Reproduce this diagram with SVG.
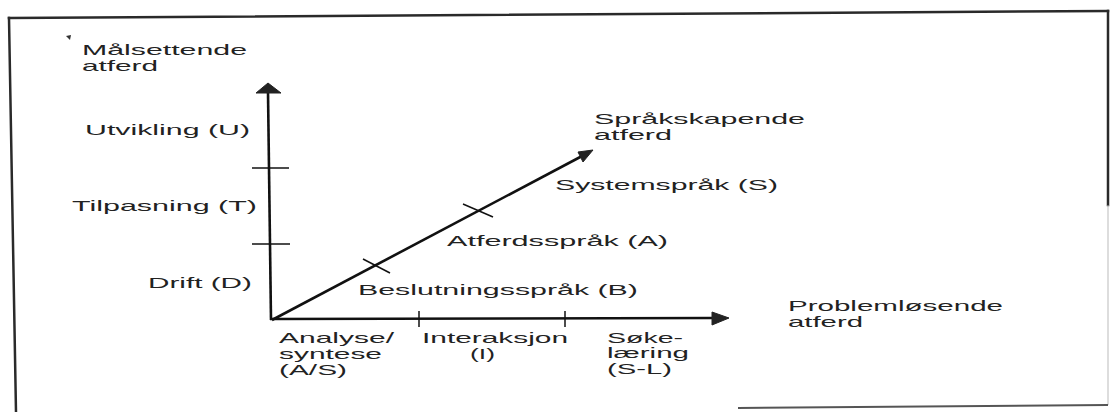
<svg xmlns="http://www.w3.org/2000/svg" width="1111" height="412" viewBox="0 0 1111 412">
<style>
.frame{stroke:#2a2a2a;stroke-width:2.5;fill:none;stroke-linecap:square}
.axis{stroke:#111;stroke-width:2.6;fill:none}
.tick{stroke:#111;stroke-width:1.5;fill:none}
.head{fill:#222;stroke:#222;stroke-width:1}
text{font-family:"Liberation Sans",Arial,sans-serif;font-size:15px;fill:#222}
</style>
<rect width="1111" height="412" fill="#fff"/>
<g id="frame">
<line class="frame" x1="9" y1="18" x2="1108" y2="11"/>
<line class="frame" x1="9" y1="18" x2="16" y2="412"/>
<line class="frame" x1="1108" y1="11" x2="1108" y2="205"/>
<line x1="1108" y1="205" x2="1108" y2="405" stroke="#bbb" stroke-width="1"/>
<line x1="738" y1="408" x2="1108" y2="405" stroke="#555" stroke-width="2"/>
<path d="M66,36 L71,35 L70,40 Z" fill="#333"/>
</g>
<g id="connectors">
<line class="axis" x1="271" y1="320" x2="268" y2="92"/>
<polygon class="head" points="268,83 256,93 281,93"/>
<line class="axis" x1="270" y1="319" x2="712" y2="318" stroke-width="2.2"/>
<polygon class="head" points="729,318 712,312 712,325"/>
<line class="axis" x1="272" y1="320" x2="584" y2="155" stroke-width="2.2"/>
<polygon class="head" points="593,150 578,152 583,162"/>
</g>
<g id="ticks">
<line class="tick" x1="252" y1="168" x2="289" y2="168"/>
<line class="tick" x1="252" y1="244" x2="290" y2="244"/>
<line class="tick" x1="419" y1="311" x2="419" y2="327"/>
<line class="tick" x1="565" y1="311" x2="565" y2="327"/>
<line class="tick" x1="363" y1="259" x2="390" y2="273"/>
<line class="tick" x1="463" y1="204" x2="493" y2="217"/>
</g>
<g id="y-axis-label">
<text x="82" y="55" textLength="165" lengthAdjust="spacingAndGlyphs">Målsettende</text>
<text x="82" y="71" textLength="76" lengthAdjust="spacingAndGlyphs">atferd</text>
</g>
<g id="node-U"><text x="85" y="135" textLength="165" lengthAdjust="spacingAndGlyphs">Utvikling (U)</text></g>
<g id="node-T"><text x="72" y="211" textLength="185" lengthAdjust="spacingAndGlyphs">Tilpasning (T)</text></g>
<g id="node-D"><text x="148" y="288" textLength="104" lengthAdjust="spacingAndGlyphs">Drift (D)</text></g>
<g id="node-AS">
<text x="279" y="343" textLength="115" lengthAdjust="spacingAndGlyphs">Analyse/</text>
<text x="279" y="359" textLength="103" lengthAdjust="spacingAndGlyphs">syntese</text>
<text x="279" y="375" textLength="68" lengthAdjust="spacingAndGlyphs">(A/S)</text>
</g>
<g id="node-I">
<text x="422" y="343" textLength="146" lengthAdjust="spacingAndGlyphs">Interaksjon</text>
<text x="470" y="359" textLength="25" lengthAdjust="spacingAndGlyphs">(I)</text>
</g>
<g id="node-SL">
<text x="607" y="343" textLength="76" lengthAdjust="spacingAndGlyphs">Søke-</text>
<text x="607" y="358" textLength="82" lengthAdjust="spacingAndGlyphs">læring</text>
<text x="607" y="374" textLength="65" lengthAdjust="spacingAndGlyphs">(S-L)</text>
</g>
<g id="x-axis-label">
<text x="788" y="311" textLength="215" lengthAdjust="spacingAndGlyphs">Problemløsende</text>
<text x="788" y="327" textLength="75" lengthAdjust="spacingAndGlyphs">atferd</text>
</g>
<g id="node-B"><text x="358" y="295" textLength="280" lengthAdjust="spacingAndGlyphs">Beslutningsspråk (B)</text></g>
<g id="node-A"><text x="447" y="246" textLength="221" lengthAdjust="spacingAndGlyphs">Atferdsspråk (A)</text></g>
<g id="node-S"><text x="555" y="190" textLength="223" lengthAdjust="spacingAndGlyphs">Systemspråk (S)</text></g>
<g id="diag-axis-label">
<text x="594" y="124" textLength="211" lengthAdjust="spacingAndGlyphs">Språkskapende</text>
<text x="594" y="140" textLength="78" lengthAdjust="spacingAndGlyphs">atferd</text>
</g>
</svg>
